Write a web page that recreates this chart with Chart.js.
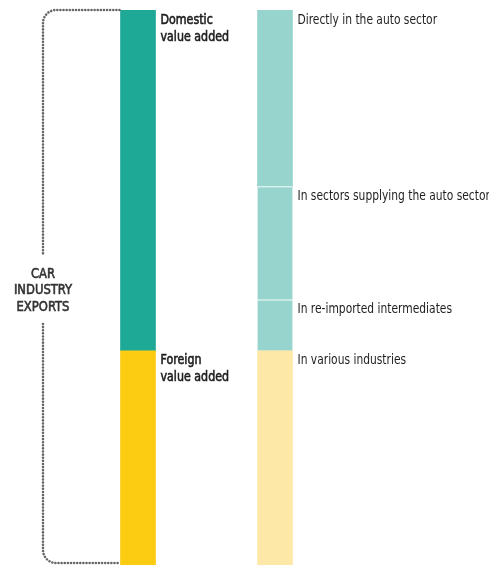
<!DOCTYPE html>
<html>
<head>
<meta charset="utf-8">
<script src="https://cdn.jsdelivr.net/npm/chart.js@4"></script>
<style>
  html, body { margin: 0; padding: 0; background: #fff; }
  #wrap { width: 489px; height: 567px; position: relative; }
</style>
</head>
<body>
<div id="wrap"><canvas id="chartCanvas"></canvas></div>
<script>
// --- data (share of car industry exports, %) ---
const barLabels = ["Value added", "By industry"];
const leftNames = [["Foreign", "value added"], ["Domestic", "value added"]];
const leftValues = [38.6, 61.4];
const rightNames = [
  ["In various industries"],
  ["In re-imported intermediates"],
  ["In sectors supplying the auto sector"],
  ["Directly in the auto sector"]
];
const rightValues = [38.6, 9.2, 20.4, 31.8];
const sideLabel = ["CAR", "INDUSTRY", "EXPORTS"];

// colours
const leftColors = ["#fccc12", "#1ea896"];
const rightColors = ["#fde8a7", "#97d4ce", "#97d4ce", "#97d4ce"];
const FONT = "'DejaVu Sans Condensed', 'Liberation Sans', Arial, sans-serif";

// --- build datasets: left bar then right bar, stacked from the bottom ---
const datasets = [];
leftValues.forEach((v, i) => datasets.push({
  label: leftNames[i].join(" "),
  names: leftNames[i],
  side: "left",
  data: [v, null],
  backgroundColor: leftColors[i],
  borderWidth: 0
}));
rightValues.forEach((v, i) => datasets.push({
  label: rightNames[i].join(" "),
  names: rightNames[i],
  side: "right",
  data: [null, v],
  backgroundColor: rightColors[i],
  borderColor: "#fff",
  // thin white line between the teal pieces
  borderWidth: (i === 1 || i === 2) ? { top: 1, left: 0, right: 0, bottom: 0 } : 0,
  borderSkipped: false
}));

// draw text squeezed horizontally (the original uses a condensed face);
// a thin stroke gives the "medium" weight of the headings
function narrowText(ctx, text, x, y, sx, medium) {
  ctx.save();
  ctx.translate(x, y);
  ctx.scale(sx, 1);
  ctx.fillText(text, 0, 0);
  if (medium) {
    ctx.lineWidth = 0.6;
    ctx.strokeStyle = ctx.fillStyle;
    ctx.strokeText(text, 0, 0);
  }
  ctx.restore();
}

// labels next to each segment + the dotted bracket on the left
const annotate = {
  id: "annotate",
  afterDatasetsDraw(chart) {
    const ctx = chart.ctx;
    ctx.save();
    ctx.fillStyle = "#1e1e1e";
    ctx.textBaseline = "top";
    ctx.textAlign = "left";
    ctx.font = "14px " + FONT;
    chart.data.datasets.forEach((ds, di) => {
      const meta = chart.getDatasetMeta(di);
      const idx = ds.data[0] != null ? 0 : 1;
      const el = meta.data[idx];
      const left = ds.side === "left";
      ds.names.forEach((line, li) => {
        narrowText(ctx, line, el.x + el.width / 2 + 5, el.y + 3 + li * 17, left ? 0.88 : 0.85, left);
      });
    });

    // bracket
    const y = chart.scales.y;
    const top = y.getPixelForValue(100);
    const bottom = y.getPixelForValue(0) - 2;
    const firstBar = chart.getDatasetMeta(0).data[0];
    const xEnd = firstBar.x - firstBar.width / 2 - 1;
    const xl = 43, r = 13;
    const gapTop = 254, gapBottom = 324;

    ctx.strokeStyle = "#666";
    ctx.lineWidth = 2.6;
    ctx.lineCap = "round";
    ctx.setLineDash([0.01, 3.1]);
    ctx.beginPath();
    ctx.moveTo(xEnd, top);
    ctx.lineTo(xl + r, top);
    ctx.arcTo(xl, top, xl, top + r, r);
    ctx.lineTo(xl, gapTop);
    ctx.stroke();
    ctx.beginPath();
    ctx.moveTo(xl, gapBottom);
    ctx.lineTo(xl, bottom - r);
    ctx.arcTo(xl, bottom, xl + r, bottom, r);
    ctx.lineTo(xEnd, bottom);
    ctx.stroke();
    ctx.setLineDash([]);

    ctx.fillStyle = "#333";
    ctx.textAlign = "center";
    ctx.font = "14px " + FONT;
    sideLabel.forEach((t, i) => narrowText(ctx, t, xl, 267 + i * 16.5, 0.92, true));
    ctx.restore();
  }
};

new Chart(document.getElementById("chartCanvas"), {
  type: "bar",
  data: { labels: barLabels, datasets },
  options: {
    responsive: true,
    maintainAspectRatio: false,
    animation: false,
    layout: { padding: { left: 69.5, right: 145.5, top: 10, bottom: 2 } },
    datasets: { bar: { barThickness: 35 } },
    plugins: { legend: { display: false }, tooltip: { enabled: false } },
    scales: {
      x: { stacked: true, display: false },
      y: { stacked: true, display: false, min: 0, max: 100 }
    }
  },
  plugins: [annotate]
});
</script>
</body>
</html>
